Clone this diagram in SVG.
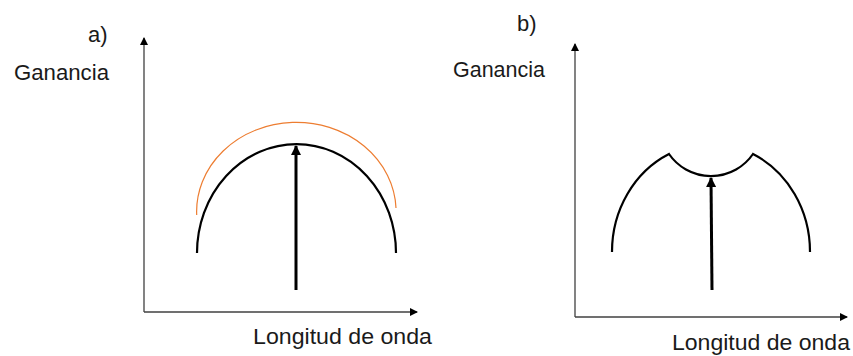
<svg xmlns="http://www.w3.org/2000/svg" width="853" height="356" viewBox="0 0 853 356">
  <style>
    .lbl { font-family: "Liberation Sans", Arial, sans-serif; font-size: 22px; fill: #1a1a1a; }
    .axis { stroke: #404040; stroke-width: 1.3; fill: none; }
    .curve { stroke: #000; stroke-width: 2.2; fill: none; }
    .orange { stroke: #ED7D31; stroke-width: 1.2; fill: none; }
    .sig { stroke: #000; stroke-width: 3; fill: none; }
  </style>
  <defs>
    <marker id="ax" markerWidth="8" markerHeight="8" refX="7" refY="4" orient="auto" markerUnits="userSpaceOnUse">
      <path d="M0,0 L8,4 L0,8 Z" fill="#000"/>
    </marker>
    <marker id="sa" markerWidth="10" markerHeight="10" refX="9" refY="5" orient="auto" markerUnits="userSpaceOnUse">
      <path d="M0,0 L10,5 L0,10 Z" fill="#000"/>
    </marker>
  </defs>
  <rect width="853" height="356" fill="#fff"/>

  <g id="panel-a">
    <g id="axes-a">
      <line class="axis" x1="144" y1="312" x2="144" y2="38" marker-end="url(#ax)"/>
      <line class="axis" x1="144" y1="312" x2="417" y2="312" marker-end="url(#ax)"/>
    </g>
    <g id="curve-a">
      <path class="orange" d="M196.7,215 A99.5,89 0 0 1 396,208"/>
      <path class="curve" d="M197,253 A99.5,109 0 0 1 396,253"/>
    </g>
    <g id="signal-a">
      <line class="sig" x1="296" y1="290" x2="296" y2="146" marker-end="url(#sa)"/>
    </g>
    <text class="lbl" x="88" y="42">a)</text>
    <text class="lbl" x="14" y="80" textLength="95" lengthAdjust="spacingAndGlyphs">Ganancia</text>
    <text class="lbl" x="253" y="344" textLength="179" lengthAdjust="spacingAndGlyphs">Longitud de onda</text>
  </g>

  <g id="panel-b">
    <g id="axes-b">
      <line class="axis" x1="575" y1="317" x2="575" y2="44" marker-end="url(#ax)"/>
      <line class="axis" x1="575" y1="317" x2="847" y2="317" marker-end="url(#ax)"/>
    </g>
    <g id="curve-b">
      <path class="curve" d="M612,252 A99,108 0 0 1 669,154 A51,51 0 0 0 753,154 A99,108 0 0 1 810,252"/>
    </g>
    <g id="signal-b">
      <line class="sig" x1="712" y1="290" x2="711" y2="178" marker-end="url(#sa)"/>
    </g>
    <text class="lbl" x="517" y="31">b)</text>
    <text class="lbl" x="453" y="77" textLength="92" lengthAdjust="spacingAndGlyphs">Ganancia</text>
    <text class="lbl" x="672" y="350" textLength="178" lengthAdjust="spacingAndGlyphs">Longitud de onda</text>
  </g>
</svg>
